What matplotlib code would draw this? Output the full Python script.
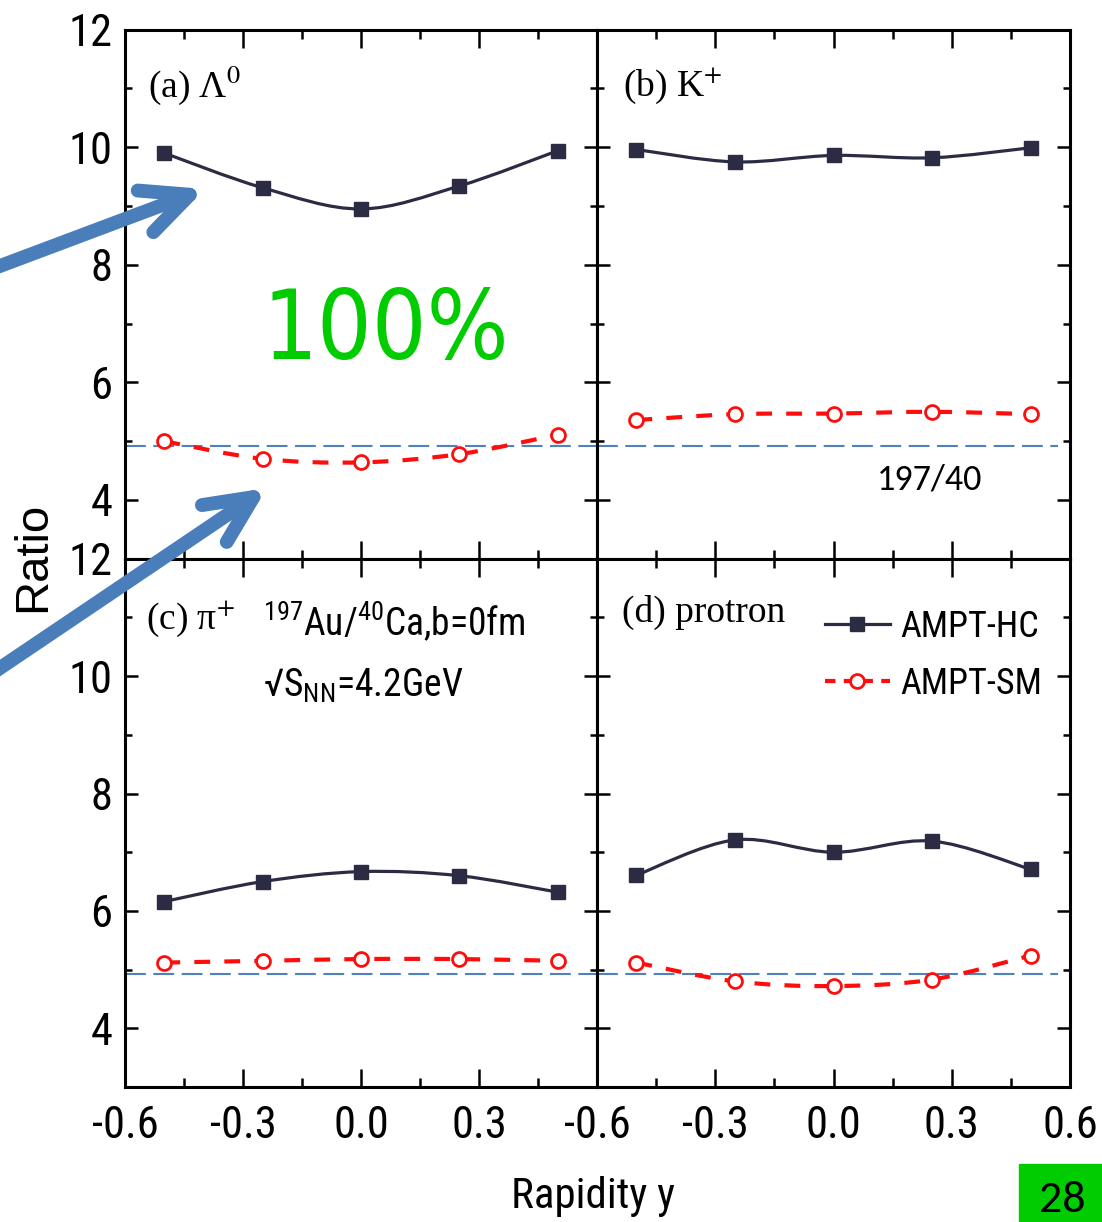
import matplotlib
matplotlib.use("Agg")
import matplotlib.pyplot as plt
from matplotlib.path import Path
from matplotlib.patches import PathPatch, FancyArrowPatch, Rectangle
from matplotlib.lines import Line2D
from matplotlib.ticker import MultipleLocator, FixedLocator
import numpy as np

# ---- data -------------------------------------------------------------
rapidity = [-0.5, -0.25, 0.0, 0.25, 0.5]

lambda_hc = [9.90, 9.31, 8.95, 9.34, 9.94]
lambda_sm = [5.00, 4.70, 4.64, 4.78, 5.11]
kaon_hc = [9.96, 9.75, 9.86, 9.82, 9.99]
kaon_sm = [5.36, 5.46, 5.47, 5.50, 5.46]
pion_hc = [6.16, 6.50, 6.67, 6.60, 6.32]
pion_sm = [5.12, 5.15, 5.18, 5.18, 5.15]
proton_hc = [6.61, 7.21, 7.00, 7.19, 6.71]
proton_sm = [5.12, 4.80, 4.72, 4.83, 5.24]

mass_ratio = 197 / 40  # A(Au) / A(Ca)

panel_titles = [r"(a) Λ$^{0}$", r"(b) K$^{+}$", r"(c) π$^{+}$", "(d) protron"]
series_names = ["AMPT-HC", "AMPT-SM"]
x_ticks = [-0.6, -0.3, 0.0, 0.3, 0.6]
x_tick_labels = ["-0.6", "-0.3", "0.0", "0.3", "0.6"]
y_ticks = [4, 6, 8, 10, 12]

# ---- style ------------------------------------------------------------
NARROW = ["Roboto Condensed", "Liberation Sans", "DejaVu Sans"]
plt.rcParams["font.family"] = NARROW
plt.rcParams["mathtext.fontset"] = "custom"
plt.rcParams["mathtext.rm"] = "Roboto Condensed"
plt.rcParams["mathtext.it"] = "Roboto Condensed"

HC_COLOR = "#2b2c44"
SM_COLOR = "#ff0d0d"
REF_COLOR = "#4f81bd"
ARROW_COLOR = "#4a7ebb"
GREEN = "#00cc00"

W, H = 1102, 1222
fig = plt.figure(figsize=(W / 100, H / 100), dpi=100)


def fx(px):
    return px / W


def fy(py):
    return 1 - py / H


left_x, mid_x, right_x = 125, 597, 1070
top_y, mid_y, bot_y = 29.6, 558.8, 1087.0

boxes = [
    (left_x, top_y, mid_x, mid_y),
    (mid_x, top_y, right_x, mid_y),
    (left_x, mid_y, mid_x, bot_y),
    (mid_x, mid_y, right_x, bot_y),
]
axes = []
for (x0, y0, x1, y1) in boxes:
    ax = fig.add_axes([fx(x0), fy(y1), fx(x1) - fx(x0), (y1 - y0) / H])
    axes.append(ax)


def smooth_curve(x, y):
    """Cubic Bezier (Catmull-Rom) path through the data points."""
    pts = np.column_stack([x, y]).astype(float)
    ext = np.vstack([pts[0], pts, pts[-1]])
    verts = [tuple(pts[0])]
    codes = [Path.MOVETO]
    for i in range(1, len(ext) - 2):
        p0, p1, p2, p3 = ext[i - 1], ext[i], ext[i + 1], ext[i + 2]
        c1 = p1 + (p2 - p0) / 6.0
        c2 = p2 - (p3 - p1) / 6.0
        verts += [tuple(c1), tuple(c2), tuple(p2)]
        codes += [Path.CURVE4] * 3
    return Path(verts, codes)


series = [
    (lambda_hc, lambda_sm),
    (kaon_hc, kaon_sm),
    (pion_hc, pion_sm),
    (proton_hc, proton_sm),
]

for i, (ax, (hc, sm)) in enumerate(zip(axes, series)):
    ax.set_xlim(-0.6, 0.6)
    ax.set_ylim(3, 12)

    # reference level 197/40
    ax.axhline(mass_ratio, xmin=0, xmax=(1.0 if i % 2 == 0 else 0.975),
               color=REF_COLOR, lw=1.5, dashes=(10, 3.6), zorder=1)

    ax.add_patch(PathPatch(smooth_curve(rapidity, hc), fill=False,
                           ec=HC_COLOR, lw=2.3, zorder=2))
    ax.plot(rapidity, hc, ls="none", marker="s", ms=10.5, color=HC_COLOR, zorder=3)

    ax.add_patch(PathPatch(smooth_curve(rapidity, sm), fill=False,
                           ec=SM_COLOR, lw=3.0, linestyle=(0, (3.8, 3.4)), zorder=2))
    ax.plot(rapidity, sm, ls="none", marker="o", ms=10, mfc="white",
            mec=SM_COLOR, mew=2, zorder=3)

    # ticks
    ax.xaxis.set_major_locator(FixedLocator(x_ticks))
    ax.xaxis.set_minor_locator(MultipleLocator(0.15))
    ax.yaxis.set_major_locator(FixedLocator(y_ticks))
    ax.yaxis.set_minor_locator(MultipleLocator(1))
    ax.tick_params(axis="both", which="both", direction="in",
                   top=True, right=True, width=1.8, colors="black")
    ax.tick_params(axis="x", which="major", length=13, pad=13, labelsize=32)
    ax.tick_params(axis="x", which="minor", length=6.5)
    ax.tick_params(axis="y", which="major", length=9.7, pad=9, labelsize=32)
    ax.tick_params(axis="y", which="minor", length=5)
    for sp in ax.spines.values():
        sp.set_linewidth(2.2)

    if i < 2:
        ax.set_xticklabels([])
    else:
        ax.set_xticklabels(x_tick_labels)
    if i % 2 == 1:
        ax.set_yticklabels([])
    else:
        ax.set_yticklabels([str(t) for t in y_ticks])

# the shared 0.6 / -0.6 boundary shows only the right panel's label
axes[2].get_xticklabels()[-1].set_visible(False)

# panel titles (serif)
title_pos = [(0.0487, 0.8726), (0.055, 0.8755), (0.0445, 0.867), (0.052, 0.8797)]
for ax, title, (tx, ty) in zip(axes, panel_titles, title_pos):
    ax.text(tx, ty, title, transform=ax.transAxes, ha="left", va="baseline",
            family=["Liberation Serif", "DejaVu Serif"], fontsize=27,
            math_fontfamily="stix")

# collision system in panel (c)
axes[2].text(0.292, 0.8556, r"$^{197}$Au/$^{40}$Ca,b=0fm", transform=axes[2].transAxes,
             ha="left", va="baseline", fontsize=27)
axes[2].text(0.292, 0.738, r"√S$_{\mathrm{NN}}$=4.2GeV", transform=axes[2].transAxes,
             ha="left", va="baseline", fontsize=27)

# legend in panel (d)
handles = [
    Line2D([], [], color=HC_COLOR, lw=2.3, marker="s", ms=10.5),
    Line2D([], [], color=SM_COLOR, lw=3.0, dashes=(2.5, 2.0), marker="o", ms=10,
           mfc="white", mec=SM_COLOR, mew=2),
]
axes[3].legend(handles, series_names, loc="upper left", bbox_to_anchor=(0.482, 0.905),
               frameon=False, fontsize=26, handlelength=1.8, handletextpad=0.28,
               labelspacing=0.58, borderpad=0, borderaxespad=0)

# reference-level label in panel (b)
axes[1].text(0.592, 0.131, "197/40", transform=axes[1].transAxes, ha="left",
             va="baseline", family=["Carlito", "DejaVu Sans"], fontsize=26)

# large green percentage in panel (a)
axes[0].text(0.2905, 0.3776, "100%", transform=axes[0].transAxes, ha="left",
             va="baseline", family=["DejaVu Sans"], fontstretch="condensed",
             fontsize=69, color=GREEN)

# axis titles
fig.text(fx(33), fy(557), "Ratio", rotation=90, ha="center", va="center",
         family=["Liberation Sans", "DejaVu Sans"], fontsize=34)
fig.text(fx(593), fy(1208), "Rapidity y", ha="center", va="baseline", fontsize=31)

# pointer arrows
arrow_kw = dict(arrowstyle="->,head_length=34,head_width=16", mutation_scale=1,
                color=ARROW_COLOR, lw=10, capstyle="round", joinstyle="round",
                shrinkA=0, shrinkB=0, transform=fig.transFigure, zorder=10)
fig.patches.append(FancyArrowPatch((fx(-20), fy(273.5)), (fx(205), fy(189)), **arrow_kw))
fig.patches.append(FancyArrowPatch((fx(-20), fy(681.5)), (fx(267), fy(488)), **arrow_kw))

# slide number badge
fig.patches.append(Rectangle((fx(1019), 0), fx(1102) - fx(1019), 58 / H,
                             transform=fig.transFigure, color=GREEN, zorder=5))
fig.text(fx(1062), fy(1212), "28", ha="center", va="baseline",
         family=["Carlito", "DejaVu Sans"], fontsize=33, zorder=6)

fig.savefig("out.png", dpi=100)
